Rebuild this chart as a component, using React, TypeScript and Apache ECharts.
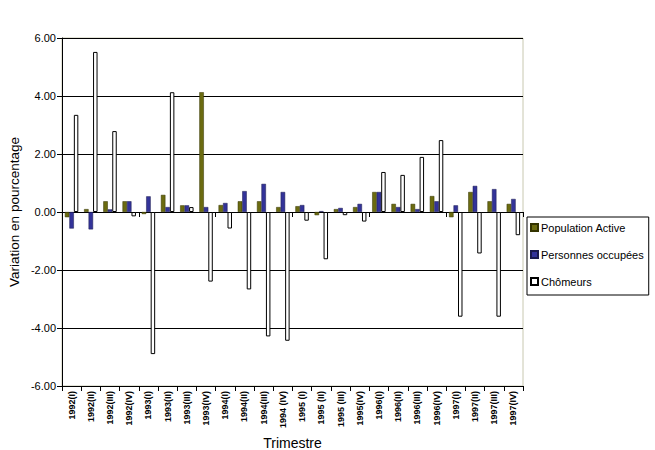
import React, { useEffect, useRef } from "react";
import * as echarts from "echarts";

const categories = [
  "1992(I)", "1992(II)", "1992(III)", "1992(IV)",
  "1993(I)", "1993(II)", "1993(III)", "1993(IV)",
  "1994(I)", "1994(II)", "1994(III)", "1994 (IV)",
  "1995 (I)", "1995 (II)", "1995 (III)", "1995(IV)",
  "1996(I)", "1996(II)", "1996(III)", "1996(IV)",
  "1997(I)", "1997(II)", "1997(III)", "1997(IV)",
];

const populationActive = [
  -0.18, 0.1, 0.37, 0.37, -0.07, 0.59, 0.23, 4.13, 0.24, 0.37, 0.37, 0.17,
  0.2, -0.11, 0.1, 0.17, 0.69, 0.28, 0.28, 0.55, -0.18, 0.69, 0.37, 0.28,
];

const personnesOccupees = [
  -0.57, -0.6, 0.09, 0.37, 0.54, 0.17, 0.23, 0.17, 0.31, 0.72, 0.97, 0.69,
  0.24, 0.03, 0.14, 0.28, 0.69, 0.17, 0.1, 0.37, 0.23, 0.9, 0.79, 0.45,
];

const chomeurs = [
  3.35, 5.52, 2.79, -0.15, -4.9, 4.13, 0.17, -2.4, -0.57, -2.67, -4.29, -4.44,
  -0.3, -1.63, -0.11, -0.33, 1.38, 1.28, 1.9, 2.48, -3.61, -1.43, -3.61, -0.8,
];

const FONT = "'Liberation Sans', Arial, sans-serif";

export default function App() {
  const ref = useRef<HTMLDivElement>(null);
  useEffect(() => {
    if (!ref.current) return;
    const chart = echarts.init(ref.current, null, { renderer: "svg" });
    chart.setOption({
      animation: false,
      backgroundColor: "#ffffff",
      textStyle: { fontFamily: FONT, color: "#000" },
      grid: {
        left: 62,
        right: 132,
        top: 38,
        bottom: 64,
        containLabel: false,
        outerBoundsMode: "none",
        show: true,
        borderColor: "#c8c8b0",
        borderWidth: 1,
      },
      legend: {
        orient: "vertical",
        left: 527,
        top: 217,
        backgroundColor: "#fff",
        borderColor: "#000",
        borderWidth: 1,
        padding: [5, 5, 8, 3],
        itemGap: 16,
        itemWidth: 7,
        itemHeight: 7,
        icon: "rect",
        textStyle: { fontFamily: FONT, fontSize: 11, color: "#000", padding: [0, 0, 0, -2] },
        data: ["Population Active", "Personnes occupées", "Chômeurs"],
      },
      xAxis: [
        {
          type: "category",
          data: categories,
          position: "bottom",
          name: "Trimestre",
          nameLocation: "middle",
          nameGap: 50,
          nameMoveOverlap: false,
          nameTextStyle: { fontFamily: FONT, fontSize: 14, color: "#000" },
          axisLine: { onZero: false, lineStyle: { color: "#000", width: 1 } },
          axisTick: { show: true, length: 5, lineStyle: { color: "#000" } },
          axisLabel: {
            rotate: 90,
            fontSize: 9,
            fontWeight: "bold",
            color: "#000",
            margin: 5,
            interval: 0,
            overflow: "none",
            fontFamily: FONT,
          },
          splitLine: { show: false },
        },
        {
          type: "category",
          data: categories,
          position: "bottom",
          axisLine: { onZero: true, onZeroAxisIndex: 0, lineStyle: { color: "#000", width: 1 } },
          axisTick: { show: true, length: 5, inside: false, lineStyle: { color: "#000" } },
          axisLabel: { show: false },
          splitLine: { show: false },
        },
      ],
      yAxis: {
        type: "value",
        min: -6,
        max: 6,
        interval: 2,
        name: "Variation en pourcentage",
        nameLocation: "middle",
        nameGap: 41,
        nameMoveOverlap: false,
        nameTextStyle: { fontFamily: FONT, fontSize: 13.5, color: "#000" },
        axisLine: { show: true, lineStyle: { color: "#000", width: 1 } },
        axisTick: { show: true, length: 5, lineStyle: { color: "#000" } },
        axisLabel: {
          formatter: (v: number) => v.toFixed(2),
          fontSize: 11,
          color: "#000",
          margin: 6,
          fontFamily: FONT,
        },
        splitLine: { show: true, lineStyle: { color: "#000", width: 1 } },
      },
      series: [
        {
          name: "Population Active",
          type: "bar",
          data: populationActive,
          xAxisIndex: 0,
          barGap: "0%",
          barCategoryGap: "30%",
          itemStyle: { color: "#6b6b10", borderColor: "#333300", borderWidth: 0.5 },
        },
        {
          name: "Personnes occupées",
          type: "bar",
          data: personnesOccupees,
          xAxisIndex: 0,
          barGap: "0%",
          barCategoryGap: "30%",
          itemStyle: { color: "#333399", borderColor: "#1a1a4d", borderWidth: 0.5 },
        },
        {
          name: "Chômeurs",
          type: "bar",
          data: chomeurs,
          xAxisIndex: 0,
          barGap: "0%",
          barCategoryGap: "30%",
          itemStyle: { color: "#ffffff", borderColor: "#000", borderWidth: 1 },
        },
      ],
    });
    return () => chart.dispose();
  }, []);
  return <div ref={ref} style={{ width: 655, height: 450, position: "absolute", left: 0, top: 0 }} />;
}
